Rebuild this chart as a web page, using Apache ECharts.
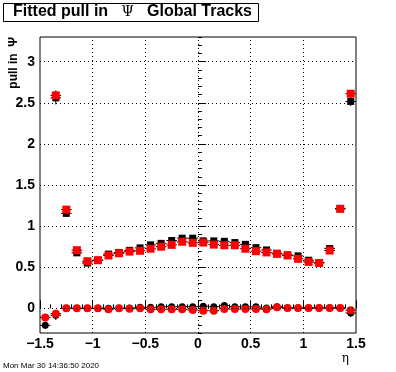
<!DOCTYPE html>
<html>
<head>
<meta charset="utf-8">
<script src="https://cdn.jsdelivr.net/npm/echarts@6/dist/echarts.min.js"></script>
<style>
  html, body { margin: 0; padding: 0; background: #fff; }
  #chart { width: 396px; height: 372px; }
</style>
</head>
<body>
<div id="chart"></div>
<script>
// eta bin centres (bin width 0.1)
const etaBins = [-1.45, -1.35, -1.25, -1.15, -1.05, -0.95, -0.85, -0.75, -0.65, -0.55,
                 -0.45, -0.35, -0.25, -0.15, -0.05, 0.05, 0.15, 0.25, 0.35, 0.45,
                 0.55, 0.65, 0.75, 0.85, 0.95, 1.05, 1.15, 1.25, 1.35, 1.45];
const binHalfWidth = 0.05;

// black: width (squares) and mean (circles)
const blackWidth = [null, 2.56, 1.155, 0.675, 0.55, 0.585, 0.66, 0.68, 0.705, 0.735,
                    0.772, 0.79, 0.825, 0.853, 0.853, 0.82, 0.82, 0.815, 0.80, 0.778,
                    0.738, 0.71, 0.67, 0.65, 0.638, 0.585, 0.555, 0.728, 1.21, 2.516];
const blackWidthErr = [0, 0.08, 0.04, 0.02, 0.02, 0.02, 0.02, 0.02, 0.02, 0.02,
                       0.02, 0.02, 0.02, 0.02, 0.02, 0.02, 0.02, 0.02, 0.02, 0.02,
                       0.02, 0.02, 0.02, 0.02, 0.02, 0.02, 0.02, 0.02, 0.03, 0.055];
const blackMean = [-0.207, -0.085, 0.0, 0.0, 0.0, 0.0, 0.0, 0.0, 0.005, 0.012,
                   0.012, 0.02, 0.02, 0.02, 0.02, 0.025, 0.02, 0.033, 0.02, 0.018,
                   0.018, 0.005, 0.02, 0.005, 0.005, 0.005, 0.005, 0.005, 0.005, -0.057];
const blackMeanErr = [0.045, 0.057, 0.015, 0.015, 0.015, 0.015, 0.015, 0.015, 0.015, 0.015,
                      0.015, 0.015, 0.015, 0.015, 0.015, 0.015, 0.015, 0.015, 0.015, 0.015,
                      0.015, 0.015, 0.015, 0.015, 0.015, 0.015, 0.015, 0.015, 0.015, 0.05];

// red: width (squares) and mean (circles)
const redWidth = [null, 2.59, 1.20, 0.707, 0.573, 0.585, 0.643, 0.67, 0.69, 0.70,
                  0.725, 0.75, 0.772, 0.81, 0.797, 0.80, 0.775, 0.767, 0.767, 0.725,
                  0.695, 0.68, 0.662, 0.643, 0.602, 0.565, 0.552, 0.703, 1.211, 2.61];
const redWidthErr = [0, 0.06, 0.04, 0.02, 0.02, 0.02, 0.02, 0.02, 0.02, 0.02,
                     0.02, 0.02, 0.02, 0.02, 0.02, 0.02, 0.02, 0.02, 0.02, 0.02,
                     0.02, 0.02, 0.02, 0.02, 0.02, 0.02, 0.02, 0.02, 0.03, 0.04];
const redMean = [-0.11, -0.065, 0.0, 0.0, 0.0, 0.0, -0.012, 0.0, -0.005, 0.0,
                 -0.012, -0.012, -0.012, -0.012, -0.02, -0.029, -0.029, -0.008, -0.008, -0.008,
                 -0.008, -0.012, 0.012, 0.004, 0.004, 0.004, 0.004, 0.004, 0.004, -0.022];
const redMeanErr = [0.03, 0.04, 0.012, 0.012, 0.012, 0.012, 0.012, 0.012, 0.012, 0.012,
                    0.012, 0.012, 0.012, 0.012, 0.012, 0.012, 0.012, 0.012, 0.012, 0.012,
                    0.012, 0.012, 0.012, 0.012, 0.012, 0.012, 0.012, 0.012, 0.012, 0.03];

// axes
const xMin = -1.5, xMax = 1.5;
const yMin = -0.3, yMax = 3.3;
const yMajorTicks = [0, 0.5, 1, 1.5, 2, 2.5, 3];
const xGridLines = [-1, -0.5, 0, 0.5, 1];
const yGridLines = [0, 0.5, 1, 1.5, 2, 2.5, 3];

const FONT = 'Liberation Sans';
const fmt = v => String(+v.toFixed(2)).replace('-', '\u2212');

function points(vals, errs) {
    const out = [];
    vals.forEach((v, i) => {
        if (v !== null) out.push([etaBins[i], v, binHalfWidth, errs[i]]);
    });
    return out;
}

function errorBars(name, data) {
    return {
        name: name,
        type: 'custom',
        silent: true,
        data: data,
        renderItem: (params, api) => {
            const x = api.value(0), y = api.value(1), ex = api.value(2), ey = api.value(3);
            const l = api.coord([x - ex, y]);
            const r = api.coord([x + ex, y]);
            const t = api.coord([x, y + ey]);
            const b = api.coord([x, y - ey]);
            const st = { stroke: '#000', lineWidth: 1 };
            return {
                type: 'group',
                children: [
                    { type: 'line', shape: { x1: l[0], y1: l[1], x2: r[0], y2: r[1] }, style: st },
                    { type: 'line', shape: { x1: t[0], y1: t[1], x2: b[0], y2: b[1] }, style: st }
                ]
            };
        }
    };
}

function markers(name, data, symbol, size, color) {
    return {
        name: name,
        type: 'scatter',
        silent: true,
        symbol: symbol,
        symbolSize: size,
        itemStyle: { color: color, opacity: 1 },
        data: data.map(d => [d[0], d[1]])
    };
}

const bw = points(blackWidth, blackWidthErr);
const bm = points(blackMean, blackMeanErr);
const rw = points(redWidth, redWidthErr);
const rm = points(redMean, redMeanErr);

const chart = echarts.init(document.getElementById('chart'), null, { renderer: 'canvas' });

const option = {
    animation: false,
    backgroundColor: '#fff',
    title: {
        text: '{a|Fitted pull in}{p|   \u03a8   }{a|Global Tracks}',
        left: 3,
        top: 3,
        borderColor: '#000',
        borderWidth: 1,
        padding: [1, 7, 2, 10],
        textStyle: {
            rich: {
                a: { fontFamily: FONT, fontWeight: 'bold', fontSize: 16, color: '#000' },
                p: { fontFamily: 'DejaVu Serif', fontWeight: 'normal', fontSize: 14, color: '#000' }
            }
        }
    },
    grid: {
        left: 40, right: 40, top: 37, bottom: 39,
        show: true, borderColor: '#000', borderWidth: 1, backgroundColor: '#fff'
    },
    xAxis: [
        {
            type: 'value', min: xMin, max: xMax, interval: 0.5,
            axisLine: { show: false },
            axisTick: { show: true, inside: true, length: 8, lineStyle: { color: '#000' } },
            axisLabel: {
                margin: 4, color: '#000', fontFamily: FONT, fontWeight: 'bold', fontSize: 14,
                formatter: fmt
            },
            splitLine: { show: false }
        },
        {
            type: 'value', min: xMin, max: xMax, interval: 0.1, position: 'bottom', offset: 0,
            axisLine: { show: false },
            axisTick: { show: true, inside: true, length: 4, lineStyle: { color: '#000' } },
            axisLabel: { show: false },
            splitLine: { show: false }
        }
    ],
    yAxis: [
        {
            type: 'value', min: yMin, max: yMax,
            axisLine: { show: false },
            axisTick: { show: true, inside: true, length: 8, customValues: yMajorTicks, lineStyle: { color: '#000' } },
            axisLabel: {
                margin: 5, color: '#000', fontFamily: FONT, fontWeight: 'bold', fontSize: 14,
                customValues: yMajorTicks, formatter: fmt
            },
            splitLine: { show: false }
        },
        {
            type: 'value', min: yMin, max: yMax, interval: 0.1, position: 'left', offset: 0,
            axisLine: { show: false },
            axisTick: { show: true, inside: true, length: 4, lineStyle: { color: '#000' } },
            axisLabel: { show: false },
            splitLine: { show: false }
        }
    ],
    graphic: [
        {
            type: 'text', x: 14, y: 37, rotation: Math.PI / 2,
            style: {
                text: 'pull in  \u03a8', fill: '#000', align: 'right', verticalAlign: 'middle',
                font: 'bold 12px "Liberation Sans"'
            }
        },
        {
            type: 'text', x: 349, y: 359,
            style: {
                text: '\u03b7', fill: '#000', align: 'right', verticalAlign: 'middle',
                font: '12px "DejaVu Serif"'
            }
        },
        {
            type: 'text', x: 3, y: 366,
            style: {
                text: 'Mon Mar 30 14:36:50 2020', fill: '#000', align: 'left', verticalAlign: 'middle',
                font: '8px "Liberation Sans"'
            }
        }
    ],
    series: [
        {
            type: 'line', data: [], silent: true,
            markLine: {
                silent: true, symbol: 'none', animation: false,
                label: { show: false },
                lineStyle: { color: '#000', width: 1, type: [1, 3] },
                data: xGridLines.map(v => ({ xAxis: v })).concat(yGridLines.map(v => ({ yAxis: v })))
            }
        },
        errorBars('black width err', bw),
        errorBars('black mean err', bm),
        markers('black width', bw, 'rect', 7, '#000'),
        markers('black mean', bm, 'circle', 7, '#000'),
        errorBars('red width err', rw),
        errorBars('red mean err', rm),
        markers('red width', rw, 'rect', 8, '#ff0000'),
        markers('red mean', rm, 'circle', 8, '#ff0000')
    ]
};

chart.setOption(option);
</script>
</body>
</html>
